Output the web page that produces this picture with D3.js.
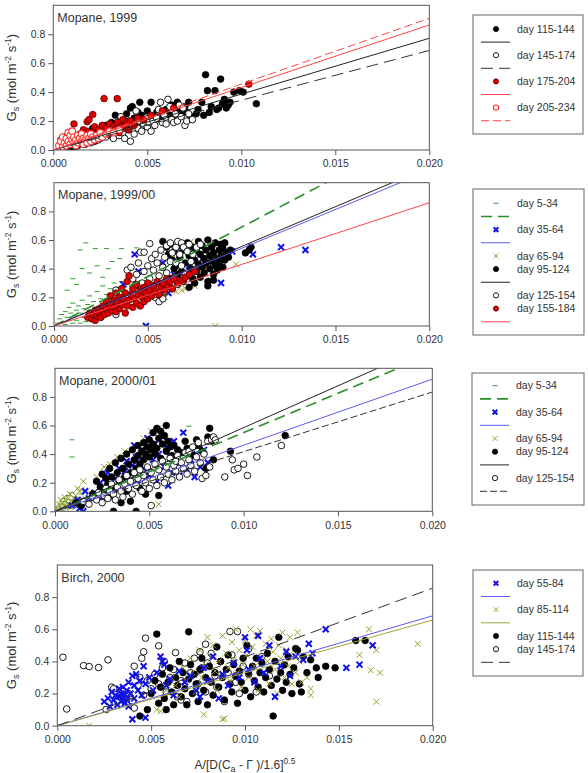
<!DOCTYPE html>
<html><head><meta charset="utf-8">
<script src="https://cdn.jsdelivr.net/npm/d3@7"></script>
<style>
body{margin:0;background:#fff}
text{font-family:"Liberation Sans",Arial,sans-serif;fill:#333}
</style>
</head><body>
<svg id="c" width="588" height="773"></svg>
<script>
// ---------- tick values ----------
const xTicks = [0, 0.005, 0.010, 0.015, 0.020];
const yTicks = [0, 0.2, 0.4, 0.6, 0.8];

// ---------- Panel 1: Mopane, 1999 ----------
const p1Labels = ["day 115-144","day 145-174","day 175-204","day 205-234"];
const p1_d115 = [[0.0009,0.0],[0.0009,0.02],[0.0011,0.01],[0.0013,0.03],[0.0015,0.05],[0.0017,0.04],[0.0019,0.07],[0.0020,0.12],[0.0021,0.15],[0.0022,0.06],[0.0023,0.09],[0.0024,0.11],[0.0025,0.08],[0.0026,0.14],[0.0027,0.12],[0.0028,0.17],[0.0029,0.10],[0.0030,0.13],[0.0031,0.19],[0.0032,0.15],[0.0033,0.24],[0.0034,0.12],[0.0035,0.18],[0.0036,0.21],[0.0037,0.14],[0.0038,0.17],[0.0039,0.25],[0.0040,0.20],[0.0041,0.29],[0.0042,0.30],[0.0043,0.22],[0.0044,0.17],[0.0045,0.26],[0.0046,0.33],[0.0047,0.24],[0.0048,0.21],[0.0050,0.27],[0.0052,0.33],[0.0053,0.23],[0.0055,0.26],[0.0056,0.27],[0.0057,0.21],[0.0058,0.25],[0.0060,0.28],[0.0062,0.24],[0.0063,0.31],[0.0064,0.22],[0.0065,0.30],[0.0066,0.33],[0.0067,0.27],[0.0068,0.24],[0.0070,0.30],[0.0071,0.26],[0.0072,0.33],[0.0073,0.23],[0.0076,0.25],[0.0077,0.28],[0.0079,0.33],[0.0080,0.24],[0.0081,0.52],[0.0082,0.41],[0.0083,0.26],[0.0084,0.30],[0.0086,0.41],[0.0087,0.28],[0.0088,0.29],[0.0089,0.49],[0.0090,0.32],[0.0091,0.35],[0.0092,0.29],[0.0093,0.31],[0.0094,0.33],[0.0096,0.40],[0.0099,0.41],[0.0101,0.40],[0.0108,0.32]];
const p1_d145 = [[0.0004,0.07],[0.0006,0.09],[0.0008,0.05],[0.0010,0.08],[0.0012,0.03],[0.0014,0.06],[0.0016,0.10],[0.0018,0.08],[0.0020,0.05],[0.0022,0.11],[0.0024,0.07],[0.0026,0.13],[0.0028,0.09],[0.0030,0.11],[0.0032,0.08],[0.0033,0.15],[0.0035,0.10],[0.0036,0.23],[0.0037,0.12],[0.0038,0.08],[0.0039,0.19],[0.0040,0.14],[0.0041,0.06],[0.0042,0.17],[0.0043,0.11],[0.0044,0.27],[0.0045,0.15],[0.0046,0.20],[0.0047,0.13],[0.0048,0.18],[0.0049,0.22],[0.0050,0.16],[0.0051,0.19],[0.0052,0.13],[0.0053,0.20],[0.0054,0.17],[0.0055,0.22],[0.0056,0.28],[0.0057,0.33],[0.0058,0.19],[0.0059,0.24],[0.0060,0.18],[0.0061,0.35],[0.0062,0.30],[0.0063,0.21],[0.0064,0.19],[0.0065,0.25],[0.0066,0.20],[0.0067,0.31],[0.0068,0.23],[0.0069,0.29],[0.0070,0.17],[0.0071,0.20],[0.0072,0.25],[0.0074,0.21]];
const p1_d175 = [[0.0004,0.04],[0.0005,0.06],[0.0006,0.03],[0.0007,0.08],[0.0008,0.05],[0.0009,0.10],[0.0010,0.07],[0.0011,0.18],[0.0012,0.04],[0.0012,0.09],[0.0013,0.06],[0.0014,0.11],[0.0015,0.08],[0.0016,0.05],[0.0016,0.14],[0.0017,0.10],[0.0018,0.13],[0.0018,0.195],[0.0019,0.21],[0.0019,0.07],[0.0020,0.09],[0.0021,0.245],[0.0021,0.12],[0.0022,0.16],[0.0022,0.08],[0.0023,0.11],[0.0024,0.14],[0.0025,0.10],[0.0026,0.17],[0.0027,0.355],[0.0027,0.12],[0.0028,0.15],[0.0029,0.11],[0.0030,0.18],[0.0031,0.13],[0.0032,0.16],[0.0033,0.14],[0.0034,0.355],[0.0034,0.19],[0.0035,0.12],[0.0036,0.16],[0.0037,0.21],[0.0038,0.15],[0.0039,0.18],[0.0040,0.14],[0.0041,0.20],[0.0043,0.17],[0.0045,0.22],[0.0048,0.21],[0.0052,0.24],[0.0058,0.27],[0.0064,0.29],[0.0104,0.455]];
const p1_d205 = [[0.0003,0.03],[0.0004,0.06],[0.0005,0.09],[0.0005,0.02],[0.0006,0.05],[0.0007,0.08],[0.0007,0.03],[0.0008,0.06],[0.0008,0.12],[0.0009,0.10],[0.0009,0.04],[0.0010,0.07],[0.0010,0.13],[0.0011,0.05],[0.0011,0.09],[0.0012,0.03],[0.0012,0.07],[0.0013,0.10],[0.0013,0.05],[0.0014,0.08],[0.0015,0.06],[0.0015,0.11],[0.0016,0.04],[0.0016,0.08],[0.0017,0.07],[0.0018,0.10],[0.0018,0.05],[0.0019,0.08],[0.0020,0.06],[0.0020,0.11],[0.0021,0.09],[0.0022,0.07],[0.0023,0.10],[0.0024,0.08],[0.0025,0.12],[0.0026,0.09],[0.0028,0.11],[0.0030,0.13],[0.0032,0.12],[0.0035,0.14]];
const p1Slopes = [38.6, 34.4, 43.2, 45.5]; // Gs per unit x, lines through origin

// ---------- Panel 2: Mopane, 1999/00 ----------
const p2Labels = ["day 5-34","day 35-64","day 65-94","day 95-124","day 125-154","day 155-184"];
const p2_d5 = [[0.0002,0.02],[0.0003,0.05],[0.0004,0.08],[0.0005,0.03],[0.0006,0.10],[0.0006,0.01],[0.0007,0.06],[0.0007,0.25],[0.0008,0.13],[0.0008,0.04],[0.0009,0.09],[0.0010,0.02],[0.0010,0.16],[0.0010,0.33],[0.0011,0.07],[0.0012,0.11],[0.0012,0.04],[0.0012,0.29],[0.0013,0.14],[0.0014,0.02],[0.0014,0.09],[0.0014,0.53],[0.0015,0.18],[0.0015,0.40],[0.0016,0.06],[0.0016,0.12],[0.0017,0.03],[0.0017,0.58],[0.0018,0.15],[0.0018,0.08],[0.0019,0.21],[0.0019,0.37],[0.0020,0.05],[0.0020,0.11],[0.0021,0.17],[0.0022,0.02],[0.0022,0.13],[0.0022,0.54],[0.0023,0.24],[0.0023,0.42],[0.0024,0.08],[0.0025,0.19],[0.0026,0.28],[0.0026,0.34],[0.0027,0.14],[0.0028,0.22],[0.0028,0.54],[0.0029,0.40],[0.0030,0.26],[0.0031,0.45],[0.0032,0.30],[0.0034,0.27],[0.0035,0.47],[0.0036,0.31],[0.0036,0.54],[0.0044,0.545]];
const p2_d35 = [[0.0037,0.29],[0.0043,0.50],[0.0045,0.38],[0.0049,0.0],[0.0058,0.44],[0.0061,0.23],[0.0064,0.36],[0.0068,0.54],[0.0072,0.42],[0.0074,0.30],[0.0079,0.47],[0.0084,0.49],[0.0089,0.30],[0.0095,0.52],[0.0106,0.50],[0.0121,0.55],[0.0134,0.53]];
const p2_d65 = [[0.0055,0.38],[0.0059,0.20],[0.0061,0.28],[0.0063,0.50],[0.0065,0.24],[0.0068,0.25],[0.0070,0.26],[0.0073,0.59],[0.0075,0.28],[0.0077,0.45],[0.0080,0.40],[0.0083,0.33],[0.0086,0.0],[0.0090,0.55],[0.0097,0.43]];
const p2_d95 = [[0.0058,0.59],[0.0060,0.55],[0.0061,0.50],[0.0062,0.57],[0.0062,0.33],[0.0063,0.46],[0.0064,0.52],[0.0064,0.40],[0.0065,0.42],[0.0066,0.56],[0.0066,0.36],[0.0067,0.48],[0.0068,0.38],[0.0069,0.53],[0.0069,0.31],[0.0070,0.44],[0.0071,0.58],[0.0071,0.35],[0.0072,0.49],[0.0072,0.27],[0.0073,0.40],[0.0074,0.55],[0.0074,0.33],[0.0075,0.46],[0.0075,0.30],[0.0076,0.52],[0.0076,0.38],[0.0077,0.59],[0.0077,0.43],[0.0078,0.50],[0.0078,0.34],[0.0079,0.56],[0.0079,0.41],[0.0080,0.47],[0.0080,0.37],[0.0081,0.53],[0.0081,0.44],[0.0082,0.31],[0.0082,0.28],[0.0082,0.60],[0.0083,0.49],[0.0083,0.40],[0.0084,0.55],[0.0084,0.45],[0.0085,0.36],[0.0085,0.51],[0.0085,0.32],[0.0086,0.42],[0.0086,0.58],[0.0087,0.47],[0.0087,0.39],[0.0088,0.53],[0.0088,0.44],[0.0089,0.57],[0.0089,0.49],[0.0090,0.41],[0.0090,0.54],[0.0091,0.46],[0.0091,0.58],[0.0092,0.51],[0.0093,0.48],[0.0094,0.53],[0.0102,0.51],[0.0104,0.53],[0.0105,0.55]];
const p2_d125 = [[0.0033,0.08],[0.0033,0.25],[0.0036,0.22],[0.0039,0.39],[0.0041,0.41],[0.0042,0.33],[0.0043,0.28],[0.0044,0.36],[0.0045,0.44],[0.0046,0.515],[0.0047,0.30],[0.0048,0.515],[0.0048,0.38],[0.0049,0.25],[0.0050,0.42],[0.0051,0.575],[0.0051,0.33],[0.0052,0.47],[0.0053,0.28],[0.0053,0.39],[0.0054,0.50],[0.0054,0.20],[0.0055,0.22],[0.0055,0.44],[0.0056,0.17],[0.0056,0.35],[0.0057,0.53],[0.0057,0.29],[0.0058,0.41],[0.0058,0.19],[0.0059,0.48],[0.0059,0.24],[0.0060,0.37],[0.0060,0.56],[0.0061,0.31],[0.0062,0.45],[0.0062,0.58],[0.0063,0.26],[0.0063,0.51],[0.0064,0.34],[0.0065,0.55],[0.0065,0.44],[0.0066,0.59],[0.0066,0.29],[0.0067,0.50],[0.0068,0.58],[0.0068,0.42],[0.0069,0.55],[0.0070,0.36],[0.0071,0.52],[0.0072,0.57],[0.0073,0.45],[0.0074,0.50],[0.0076,0.55],[0.0078,0.57]];
const p2_d155 = [[0.0018,0.06],[0.0019,0.09],[0.0020,0.05],[0.0021,0.08],[0.0022,0.11],[0.0022,0.04],[0.0023,0.07],[0.0024,0.12],[0.0024,0.09],[0.0025,0.06],[0.0026,0.14],[0.0026,0.10],[0.0027,0.08],[0.0028,0.17],[0.0028,0.12],[0.0029,0.09],[0.0030,0.15],[0.0030,0.21],[0.0031,0.11],[0.0032,0.18],[0.0032,0.13],[0.0033,0.23],[0.0033,0.10],[0.0034,0.16],[0.0035,0.20],[0.0035,0.12],[0.0036,0.26],[0.0036,0.15],[0.0037,0.19],[0.0038,0.09],[0.0038,0.23],[0.0039,0.14],[0.0039,0.31],[0.0040,0.18],[0.0040,0.35],[0.0041,0.22],[0.0042,0.13],[0.0042,0.26],[0.0043,0.19],[0.0044,0.16],[0.0044,0.29],[0.0045,0.22],[0.0046,0.25],[0.0046,0.14],[0.0047,0.20],[0.0048,0.27],[0.0048,0.17],[0.0049,0.23],[0.0050,0.30],[0.0050,0.19],[0.0051,0.25],[0.0052,0.21],[0.0053,0.28],[0.0054,0.24],[0.0055,0.31],[0.0056,0.22],[0.0057,0.27],[0.0058,0.30],[0.0059,0.25],[0.0060,0.33],[0.0061,0.28],[0.0062,0.31],[0.0063,0.26],[0.0064,0.33],[0.0066,0.30],[0.0068,0.32],[0.0070,0.34],[0.0072,0.36],[0.0075,0.38]];
const p2Slopes = [69, 54.2, 55.5, 43]; // day 5-34, 35-64, 95-124, 125-184

// ---------- Panel 3: Mopane, 2000/01 ----------
const p3Labels = ["day 5-34","day 35-64","day 65-94","day 95-124","day 125-154"];
const p3_d5 = [[0.0001,0.01],[0.0002,0.03],[0.0003,0.05],[0.0003,0.01],[0.0004,0.07],[0.0005,0.02],[0.0005,0.09],[0.0006,0.04],[0.0007,0.11],[0.0007,0.06],[0.0008,0.02],[0.0009,0.08],[0.0009,0.13],[0.0009,0.50],[0.0009,0.38],[0.0010,0.05],[0.0011,0.10],[0.0012,0.03],[0.0013,0.07],[0.0014,0.12],[0.0015,0.04],[0.0016,0.09],[0.0018,0.06],[0.0020,0.14],[0.0046,0.44],[0.0048,0.43],[0.0052,0.44],[0.0071,0.595]];
const p3_d35 = [[0.0009,0.04],[0.0012,0.08],[0.0013,0.02],[0.0015,0.0],[0.0016,0.14],[0.0018,0.09],[0.0021,0.13],[0.0024,0.20],[0.0025,0.10],[0.0028,0.27],[0.0030,0.18],[0.0032,0.23],[0.0034,0.30],[0.0035,0.15],[0.0037,0.28],[0.0038,0.35],[0.0040,0.22],[0.0041,0.32],[0.0042,0.46],[0.0043,0.38],[0.0044,0.19],[0.0046,0.43],[0.0047,0.30],[0.0049,0.51],[0.0050,0.25],[0.0052,0.36],[0.0053,0.47],[0.0054,0.21],[0.0055,0.40],[0.0057,0.52],[0.0058,0.31],[0.0059,0.45],[0.0060,0.18],[0.0061,0.38],[0.0062,0.27],[0.0063,0.49],[0.0064,0.34],[0.0066,0.25],[0.0068,0.55],[0.0069,0.41],[0.0070,0.29],[0.0072,0.36],[0.0074,0.24],[0.0075,0.40],[0.0077,0.31],[0.0079,0.43],[0.0081,0.34]];
const p3_d65 = [[0.0001,0.02],[0.0002,0.05],[0.0003,0.03],[0.0003,0.08],[0.0004,0.01],[0.0004,0.06],[0.0005,0.10],[0.0005,0.04],[0.0006,0.07],[0.0006,0.02],[0.0007,0.09],[0.0007,0.05],[0.0008,0.12],[0.0008,0.03],[0.0009,0.06],[0.0010,0.09],[0.0010,0.04],[0.0011,0.11],[0.0012,0.07],[0.0012,0.16],[0.0013,0.14],[0.0014,0.15],[0.0015,0.21],[0.0016,0.09],[0.0019,0.12],[0.0022,0.24],[0.0026,0.31],[0.0029,0.33],[0.0033,0.38],[0.0037,0.42],[0.0042,0.22],[0.0044,0.35],[0.0047,0.51],[0.0051,0.56],[0.0055,0.58],[0.0055,0.05],[0.0060,0.48]];
const p3_d95 = [[0.0011,0.06],[0.0014,0.04],[0.0020,0.12],[0.0022,0.21],[0.0024,0.17],[0.0025,0.26],[0.0026,0.14],[0.0027,0.23],[0.0028,0.19],[0.0029,0.30],[0.0030,0.11],[0.0030,0.24],[0.0031,0.0],[0.0032,0.34],[0.0032,0.16],[0.0033,0.27],[0.0034,0.21],[0.0035,0.37],[0.0035,0.06],[0.0036,0.30],[0.0037,0.24],[0.0038,0.40],[0.0038,0.14],[0.0039,0.33],[0.0040,0.27],[0.0040,0.07],[0.0041,0.43],[0.0042,0.36],[0.0043,0.0],[0.0043,0.30],[0.0044,0.46],[0.0044,0.39],[0.0045,0.33],[0.0045,0.16],[0.0046,0.42],[0.0047,0.48],[0.0047,0.36],[0.0048,0.40],[0.0048,0.12],[0.0049,0.45],[0.0050,0.38],[0.0050,0.50],[0.0051,0.43],[0.0052,0.55],[0.0052,0.47],[0.0053,0.40],[0.0054,0.58],[0.0054,0.44],[0.0055,0.51],[0.0055,0.11],[0.0056,0.56],[0.0056,0.37],[0.0057,0.47],[0.0058,0.53],[0.0059,0.60],[0.0059,0.42],[0.0060,0.49],[0.0061,0.45],[0.0062,0.39],[0.0063,0.46],[0.0065,0.43],[0.0067,0.41],[0.0069,0.49],[0.0070,0.44],[0.0073,0.39],[0.0075,0.50],[0.0076,0.46],[0.0078,0.42],[0.0080,0.30],[0.0081,0.52],[0.0082,0.58],[0.0083,0.49],[0.0084,0.36],[0.0093,0.42],[0.0122,0.53]];
const p3_d125 = [[0.0015,0.07],[0.0018,0.05],[0.0020,0.10],[0.0022,0.08],[0.0023,0.13],[0.0025,0.06],[0.0026,0.11],[0.0027,0.16],[0.0028,0.09],[0.0029,0.14],[0.0030,0.19],[0.0031,0.12],[0.0032,0.08],[0.0033,0.17],[0.0034,0.22],[0.0035,0.14],[0.0036,0.10],[0.0037,0.19],[0.0038,0.25],[0.0039,0.16],[0.0040,0.21],[0.0041,0.12],[0.0042,0.27],[0.0043,0.18],[0.0044,0.23],[0.0045,0.29],[0.0046,0.14],[0.0047,0.25],[0.0048,0.20],[0.0049,0.31],[0.0050,0.16],[0.0051,0.04],[0.0051,0.27],[0.0052,0.22],[0.0053,0.33],[0.0054,0.18],[0.0055,0.29],[0.0056,0.24],[0.0057,0.35],[0.0058,0.20],[0.0059,0.31],[0.0060,0.26],[0.0061,0.37],[0.0062,0.22],[0.0063,0.32],[0.0064,0.28],[0.0064,0.35],[0.0065,0.39],[0.0066,0.24],[0.0067,0.34],[0.0068,0.30],[0.0069,0.41],[0.0070,0.26],[0.0071,0.36],[0.0071,0.42],[0.0072,0.32],[0.0073,0.45],[0.0074,0.28],[0.0075,0.38],[0.0076,0.48],[0.0077,0.34],[0.0078,0.23],[0.0079,0.40],[0.0080,0.25],[0.0081,0.49],[0.0082,0.31],[0.0083,0.50],[0.0084,0.52],[0.0085,0.50],[0.0090,0.24],[0.0094,0.36],[0.0095,0.29],[0.0097,0.30],[0.0100,0.33],[0.0102,0.25],[0.0107,0.38],[0.0120,0.46]];
const p3Slopes = [55, 46.2, 58.5, 41.7]; // day 5-34, 35-64, 65-124, 125-154

// ---------- Panel 4: Birch, 2000 ----------
const p4Labels = ["day 55-84","day 85-114","day 115-144","day 145-174"];
const p4_d55 = [[0.0025,0.15],[0.0027,0.17],[0.0028,0.12],[0.0029,0.21],[0.0030,0.16],[0.0031,0.19],[0.0032,0.13],[0.0033,0.18],[0.0033,0.23],[0.0034,0.15],[0.0034,0.20],[0.0035,0.17],[0.0035,0.24],[0.0036,0.14],[0.0036,0.19],[0.0037,0.22],[0.0037,0.16],[0.0038,0.27],[0.0038,0.12],[0.0039,0.20],[0.0040,0.31],[0.0040,0.04],[0.0041,0.17],[0.0041,0.25],[0.0042,0.32],[0.0043,0.22],[0.0044,0.28],[0.0045,0.19],[0.0046,0.37],[0.0047,0.05],[0.0047,0.26],[0.0049,0.30],[0.0051,0.22],[0.0053,0.33],[0.0055,0.43],[0.0056,0.40],[0.0057,0.38],[0.0058,0.25],[0.0060,0.29],[0.0062,0.19],[0.0065,0.34],[0.0068,0.27],[0.0071,0.31],[0.0074,0.22],[0.0076,0.18],[0.0078,0.36],[0.0080,0.28],[0.0083,0.43],[0.0086,0.17],[0.0088,0.32],[0.0091,0.25],[0.0094,0.39],[0.0097,0.30],[0.0100,0.55],[0.0101,0.47],[0.0102,0.35],[0.0105,0.27],[0.0107,0.56],[0.0108,0.42],[0.0110,0.33],[0.0113,0.50],[0.0116,0.18],[0.0119,0.37],[0.0122,0.46],[0.0124,0.31],[0.0127,0.43],[0.0131,0.41],[0.0134,0.51],[0.0136,0.45],[0.0143,0.60],[0.0154,0.36],[0.0161,0.38],[0.0168,0.50]];
const p4_d85 = [[0.0017,0.0],[0.0053,0.10],[0.0055,0.09],[0.0058,0.22],[0.0061,0.30],[0.0063,0.25],[0.0065,0.18],[0.0067,0.36],[0.0069,0.28],[0.0071,0.42],[0.0072,0.33],[0.0074,0.21],[0.0076,0.47],[0.0077,0.30],[0.0078,0.07],[0.0079,0.38],[0.0080,0.55],[0.0081,0.27],[0.0082,0.43],[0.0083,0.50],[0.0084,0.34],[0.0085,0.22],[0.0086,0.40],[0.0087,0.31],[0.0088,0.56],[0.0088,0.04],[0.0089,0.045],[0.0090,0.45],[0.0091,0.36],[0.0092,0.28],[0.0093,0.52],[0.0094,0.41],[0.0095,0.60],[0.0096,0.33],[0.0097,0.47],[0.0098,0.24],[0.0099,0.38],[0.0100,0.53],[0.0101,0.44],[0.0102,0.30],[0.0103,0.60],[0.0104,0.49],[0.0105,0.37],[0.0106,0.56],[0.0107,0.22],[0.0108,0.59],[0.0109,0.43],[0.0110,0.33],[0.0111,0.51],[0.0112,0.40],[0.0113,0.26],[0.0114,0.54],[0.0115,0.46],[0.0116,0.35],[0.0117,0.20],[0.0118,0.50],[0.0119,0.42],[0.0120,0.58],[0.0121,0.30],[0.0122,0.47],[0.0123,0.37],[0.0124,0.55],[0.0125,0.26],[0.0126,0.44],[0.0127,0.33],[0.0128,0.58],[0.0129,0.40],[0.0130,0.27],[0.0133,0.30],[0.0135,0.23],[0.0135,0.19],[0.0161,0.44],[0.0166,0.60],[0.0167,0.345],[0.0170,0.47],[0.0170,0.15],[0.0172,0.33],[0.0192,0.51]];
const p4_d115 = [[0.0044,0.06],[0.0048,0.10],[0.0050,0.20],[0.0052,0.28],[0.0053,0.57],[0.0054,0.14],[0.0055,0.24],[0.0056,0.32],[0.0057,0.17],[0.0058,0.10],[0.0059,0.27],[0.0060,0.36],[0.0061,0.21],[0.0062,0.13],[0.0063,0.30],[0.0064,0.25],[0.0065,0.40],[0.0066,0.18],[0.0067,0.33],[0.0068,0.23],[0.0069,0.13],[0.0070,0.584],[0.0070,0.29],[0.0071,0.38],[0.0072,0.20],[0.0073,0.32],[0.0074,0.26],[0.0075,0.15],[0.0076,0.35],[0.0077,0.42],[0.0078,0.22],[0.0079,0.30],[0.0080,0.13],[0.0081,0.37],[0.0082,0.27],[0.0083,0.19],[0.0084,0.33],[0.0085,0.49],[0.0086,0.24],[0.0087,0.40],[0.0088,0.30],[0.0089,0.16],[0.0090,0.35],[0.0091,0.44],[0.0092,0.26],[0.0093,0.21],[0.0094,0.38],[0.0095,0.31],[0.0096,0.14],[0.0097,0.34],[0.0098,0.27],[0.0099,0.42],[0.0100,0.22],[0.0101,0.50],[0.0102,0.32],[0.0103,0.18],[0.0104,0.37],[0.0105,0.28],[0.0106,0.42],[0.0107,0.24],[0.0108,0.33],[0.0109,0.39],[0.0110,0.21],[0.0111,0.30],[0.0112,0.45],[0.0113,0.35],[0.0114,0.25],[0.0115,0.06],[0.0116,0.40],[0.0117,0.29],[0.0118,0.55],[0.0119,0.33],[0.0120,0.22],[0.0121,0.38],[0.0122,0.27],[0.0123,0.43],[0.0124,0.32],[0.0125,0.20],[0.0126,0.36],[0.0127,0.48],[0.0128,0.47],[0.0129,0.26],[0.0130,0.21],[0.0131,0.43],[0.0133,0.33],[0.0135,0.41],[0.0138,0.36],[0.0139,0.30],[0.0143,0.37],[0.0148,0.36],[0.0159,0.53],[0.0164,0.53]];
const p4_d145 = [[0.0003,0.426],[0.0005,0.104],[0.0014,0.374],[0.0017,0.368],[0.0022,0.362],[0.0026,0.10],[0.0027,0.41],[0.0029,0.24],[0.0030,0.23],[0.0034,0.18],[0.0038,0.20],[0.0040,0.15],[0.0041,0.11],[0.0041,0.37],[0.0043,0.25],[0.0044,0.30],[0.0045,0.42],[0.0046,0.46],[0.0046,0.19],[0.0047,0.545],[0.0048,0.28],[0.0050,0.23],[0.0052,0.32],[0.0054,0.497],[0.0054,0.26],[0.0056,0.36],[0.0057,0.40],[0.0058,0.21],[0.0060,0.30],[0.0062,0.35],[0.0063,0.455],[0.0064,0.18],[0.0066,0.28],[0.0066,0.16],[0.0068,0.39],[0.0069,0.15],[0.0071,0.33],[0.0073,0.42],[0.0075,0.26],[0.0076,0.46],[0.0077,0.36],[0.0079,0.21],[0.0079,0.507],[0.0080,0.39],[0.0082,0.45],[0.0084,0.31],[0.0085,0.24],[0.0087,0.40],[0.0089,0.15],[0.0091,0.33],[0.0092,0.586],[0.0093,0.44],[0.0095,0.27],[0.0096,0.586],[0.0097,0.20],[0.0099,0.37],[0.0102,0.48],[0.0106,0.21],[0.0109,0.43],[0.0113,0.31]];
const p4Slopes = [34.2, 32.9, 42.8]; // day 55-84, 85-114, 115-174

// ---------- styles ----------
const sty = {
  black:   {shape:"circle", fill:"#000", stroke:"#000", sw:0.8},
  open:    {shape:"circle", fill:"#fff", stroke:"#000", sw:0.9},
  redfill: {shape:"circle", fill:"#e00000", stroke:"#5a0000", sw:0.8},
  redopen: {shape:"circle", fill:"#fff", stroke:"#ff3030", sw:1.1},
  xblue:   {shape:"x", stroke:"#1010e8", sw:2},
  xolive:  {shape:"x", stroke:"#9a9a2e", sw:1},
  dash:    {shape:"dash", stroke:"#2f9b2f", sw:1}
};
const lsty = {
  black:  {stroke:"#222", sw:1, dash:null},
  blackD: {stroke:"#333", sw:1, dash:"12,6"},
  blackd: {stroke:"#333", sw:1, dash:"7,3"},
  red:    {stroke:"#ff4545", sw:1, dash:null},
  redD:   {stroke:"#ff4545", sw:1, dash:"8,4"},
  green:  {stroke:"#2a8f2a", sw:1.6, dash:"11,6"},
  blue:   {stroke:"#5a5af0", sw:1, dash:null},
  olive:  {stroke:"#a3a339", sw:1, dash:null}
};

const panels = [
  {title:"Mopane, 1999", L:53.3, R:429.3, T:5.3, B:150,
   series:[[p1_d115,"black"],[p1_d145,"open"],[p1_d175,"redfill"],[p1_d205,"redopen"]],
   lines:[[p1Slopes[0],"black"],[p1Slopes[1],"blackD"],[p1Slopes[2],"red"],[p1Slopes[3],"redD"]],
   legend:{x0:473,x1:583,y0:15,y1:134,r0:29,dr:13.1,
     rows:[["s","black",p1Labels[0]],["l","black"],["s","open",p1Labels[1]],["l","blackD"],["s","redfill",p1Labels[2]],["l","red"],["s","redopen",p1Labels[3]],["l","redD"]]}},
  {title:"Mopane, 1999/00", L:54, R:429.3, T:182.7, B:326,
   series:[[p2_d5,"dash"],[p2_d35,"xblue"],[p2_d65,"xolive"],[p2_d95,"black"],[p2_d125,"open"],[p2_d155,"redfill"]],
   lines:[[p2Slopes[0],"green"],[p2Slopes[1],"blue"],[p2Slopes[2],"black"],[p2Slopes[3],"red"]],
   legend:{x0:473,x1:584,y0:189,y1:335,r0:203.3,dr:13.16,
     rows:[["s","dash",p2Labels[0]],["l","green"],["s","xblue",p2Labels[1]],["l","blue"],["s","xolive",p2Labels[2]],["s","black",p2Labels[3]],["l","black"],["s","open",p2Labels[4]],["s","redfill",p2Labels[5]],["l","red"]]}},
  {title:"Mopane, 2000/01", L:55, R:432.3, T:368.3, B:511.3,
   series:[[p3_d5,"dash"],[p3_d65,"xolive"],[p3_d35,"xblue"],[p3_d95,"black"],[p3_d125,"open"]],
   lines:[[p3Slopes[0],"green"],[p3Slopes[1],"blue"],[p3Slopes[2],"black"],[p3Slopes[3],"blackd"]],
   legend:{x0:472,x1:584,y0:373,y1:505,r0:385.7,dr:13.2,
     rows:[["s","dash",p3Labels[0]],["l","green"],["s","xblue",p3Labels[1]],["l","blue"],["s","xolive",p3Labels[2]],["s","black",p3Labels[3]],["l","black"],["s","open",p3Labels[4]],["l","blackd"]]}},
  {title:"Birch, 2000", L:57.3, R:432.7, T:565, B:725.7,
   series:[[p4_d145,"open"],[p4_d115,"black"],[p4_d85,"xolive"],[p4_d55,"xblue"]],
   lines:[[p4Slopes[0],"blue"],[p4Slopes[1],"olive"],[p4Slopes[2],"blackD"]],
   legend:{x0:473,x1:583,y0:570,y1:676,r0:583.3,dr:13.17,
     rows:[["s","xblue",p4Labels[0]],["l","blue"],["s","xolive",p4Labels[1]],["l","olive"],["s","black",p4Labels[2]],["s","open",p4Labels[3]],["l","blackD"]]}}
];

const svg = d3.select("#c");

function drawSym(g, x, y, key, r){
  const s = sty[key];
  if (s.shape === "circle") {
    g.append("circle").attr("cx",x).attr("cy",y).attr("r",r)
      .attr("fill",s.fill).attr("stroke",s.stroke).attr("stroke-width",s.sw);
  } else if (s.shape === "x") {
    const h = r*0.9;
    g.append("path").attr("d",`M${x-h},${y-h}L${x+h},${y+h}M${x-h},${y+h}L${x+h},${y-h}`)
      .attr("stroke",s.stroke).attr("stroke-width",s.sw).attr("fill","none");
  } else {
    g.append("path").attr("d",`M${x-2.5},${y}L${x+2.5},${y}`)
      .attr("stroke",s.stroke).attr("stroke-width",s.sw).attr("fill","none");
  }
}

panels.forEach((p,i)=>{
  const x = d3.scaleLinear().domain([0,0.020]).range([p.L,p.R]);
  const y = d3.scaleLinear().domain([0,1.0]).range([p.B,p.T]);
  const clipId = "clip"+i;
  svg.append("clipPath").attr("id",clipId).append("rect")
    .attr("x",p.L).attr("y",p.T).attr("width",p.R-p.L).attr("height",p.B-p.T);

  const gp = svg.append("g").attr("clip-path",`url(#${clipId})`);
  p.series.forEach(([data,key])=>{
    data.forEach(d=> drawSym(gp, x(d[0]), y(d[1]), key, 3.3));
  });
  p.lines.forEach(([slope,key])=>{
    const ls = lsty[key];
    const line = d3.line().x(d=>x(d[0])).y(d=>y(d[1]));
    gp.append("path").attr("d", line([[0,0],[0.020,slope*0.020]]))
      .attr("stroke",ls.stroke).attr("stroke-width",ls.sw).attr("fill","none")
      .attr("stroke-dasharray",ls.dash);
  });

  svg.append("rect").attr("x",p.L).attr("y",p.T).attr("width",p.R-p.L).attr("height",p.B-p.T)
    .attr("fill","none").attr("stroke","#555").attr("stroke-width",1);

  const ax = svg.append("g").attr("transform",`translate(0,${p.B})`)
    .call(d3.axisBottom(x).tickValues(xTicks).tickFormat(d3.format(".3f")).tickSize(5).tickPadding(5));
  const ay = svg.append("g").attr("transform",`translate(${p.L},0)`)
    .call(d3.axisLeft(y).tickValues(yTicks).tickFormat(d3.format(".1f")).tickSize(5).tickPadding(3));
  [ax,ay].forEach(a=>{
    a.select(".domain").remove();
    a.selectAll(".tick line").attr("stroke","#555");
    a.selectAll(".tick text").attr("fill","#333").style("font-size","10.5px")
      .style("font-family",'"Liberation Sans",Arial,sans-serif');
  });

  svg.append("text").attr("x",p.L+4).attr("y",p.T+16.5).style("font-size","12.5px").text(p.title);

  const cy = (p.T+p.B)/2;
  const yl = svg.append("text").attr("transform",`translate(16,${cy}) rotate(-90)`)
    .attr("text-anchor","middle").style("font-size","13px");
  yl.append("tspan").text("G");
  yl.append("tspan").attr("dy",3).style("font-size","9px").text("s");
  yl.append("tspan").attr("dy",-3).text(" (mol m");
  yl.append("tspan").attr("dy",-5).style("font-size","8.5px").text("-2");
  yl.append("tspan").attr("dy",5).text(" s");
  yl.append("tspan").attr("dy",-5).style("font-size","8.5px").text("-1");
  yl.append("tspan").attr("dy",5).text(")");

  const lg = p.legend;
  svg.append("rect").attr("x",lg.x0).attr("y",lg.y0).attr("width",lg.x1-lg.x0).attr("height",lg.y1-lg.y0)
    .attr("fill","#fff").attr("stroke","#666").attr("stroke-width",1);
  const gl = svg.append("g");
  lg.rows.forEach((row,k)=>{
    const ry = lg.r0 + k*lg.dr;
    if (row[0]==="s") {
      drawSym(gl, lg.x0+23, ry, row[1], 2.6);
      gl.append("text").attr("x",lg.x0+44).attr("y",ry).attr("dy","0.35em")
        .style("font-size","10.5px").text(row[2]);
    } else {
      const ls = lsty[row[1]];
      gl.append("line").attr("x1",lg.x0+8).attr("x2",lg.x0+37).attr("y1",ry).attr("y2",ry)
        .attr("stroke",ls.stroke).attr("stroke-width",ls.sw).attr("stroke-dasharray",ls.dash);
    }
  });
});

const xt = svg.append("text").attr("x",245).attr("y",769).attr("text-anchor","middle").style("font-size","12px");
xt.append("tspan").text("A/[D(C");
xt.append("tspan").attr("dy",3).style("font-size","9px").text("a");
xt.append("tspan").attr("dy",-3).text(" - Γ )/1.6]");
xt.append("tspan").attr("dy",-5).style("font-size","8.5px").text("0.5");
</script>
</body></html>
